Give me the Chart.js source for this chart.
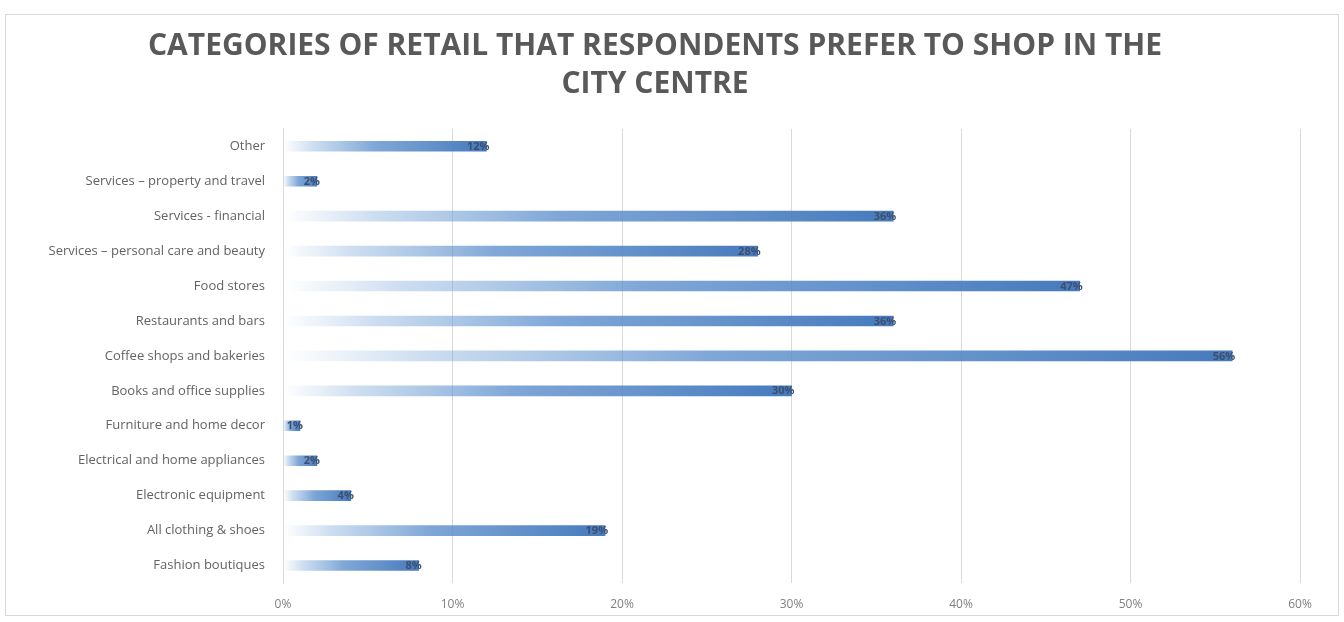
<!DOCTYPE html>
<html>
<head>
<meta charset="utf-8">
<script src="https://cdn.jsdelivr.net/npm/chart.js@4.4.0/dist/chart.umd.min.js"></script>
<style>
  html, body { margin: 0; padding: 0; background: #fff; }
  #wrap { width: 1344px; height: 622px; position: relative; }
</style>
</head>
<body>
<div id="wrap"><canvas id="myChart" width="1344" height="622"></canvas></div>
<script>
// Категорії (зверху вниз) та частка респондентів, %
const categories = [
    'Other',
    'Services – property and travel',
    'Services - financial',
    'Services – personal care and beauty',
    'Food stores',
    'Restaurants and bars',
    'Coffee shops and bakeries',
    'Books and office supplies',
    'Furniture and home decor',
    'Electrical and home appliances',
    'Electronic equipment',
    'All clothing & shoes',
    'Fashion boutiques'
];
const shares = [12, 2, 36, 28, 47, 36, 56, 30, 1, 2, 4, 19, 8];
const xTicks = [0, 10, 20, 30, 40, 50, 60];
const titleLines = ['CATEGORIES OF RETAIL THAT RESPONDENTS PREFER TO SHOP IN THE', 'CITY CENTRE'];

const ctx = document.getElementById('myChart').getContext('2d');

// Рамка та білий фон під діаграмою
const frame = {
    id: 'frame',
    beforeDraw(chart) {
        const {ctx} = chart;
        ctx.save();
        ctx.fillStyle = '#ffffff';
        ctx.fillRect(0, 0, chart.width, chart.height);
        ctx.strokeStyle = '#d9d9d9';
        ctx.lineWidth = 1;
        ctx.strokeRect(5.5, 14.5, chart.width - 11, chart.height - 21);
        ctx.restore();
    }
};

// Підписи значень на кінці смуги
const valueLabels = {
    id: 'valueLabels',
    afterDatasetsDraw(chart) {
        const {ctx, data} = chart;
        ctx.save();
        ctx.font = 'bold 11px "Open Sans", sans-serif';
        ctx.fillStyle = '#3d4f6e';
        ctx.textAlign = 'right';
        ctx.textBaseline = 'middle';
        chart.getDatasetMeta(0).data.forEach((bar, index) => {
            const txt = data.datasets[0].data[index] + '%';
            ctx.fillText(txt, bar.x + 3, bar.y + 0.5);
        });
        ctx.restore();
    }
};

const myChart = new Chart(ctx, {
    type: 'bar',
    data: {
        labels: categories,
        datasets: [{
            data: shares,
            barThickness: 10,
            borderWidth: 0,
            backgroundColor: (context) => {
                const chart = context.chart;
                const xs = chart.scales.x;
                if (!chart.chartArea || !xs || context.raw === undefined) {
                    return 'rgba(91, 141, 204, 0.8)';
                }
                const x0 = xs.getPixelForValue(0);
                const x1 = xs.getPixelForValue(context.raw);
                if (x1 - x0 < 1) return 'rgba(74, 126, 190, 1)';
                const g = chart.ctx.createLinearGradient(x0, 0, x1, 0);
                g.addColorStop(0, 'rgba(120, 165, 215, 0)');
                g.addColorStop(0.15, 'rgba(110, 158, 212, 0.35)');
                g.addColorStop(0.45, 'rgba(95, 145, 205, 0.8)');
                g.addColorStop(1, 'rgba(70, 122, 188, 1)');
                return g;
            }
        }]
    },
    options: {
        indexAxis: 'y',
        responsive: false,
        animation: false,
        layout: {
            padding: { left: 10, right: 44, top: 0, bottom: 10 }
        },
        plugins: {
            legend: { display: false },
            tooltip: { enabled: false },
            title: {
                display: true,
                text: titleLines,
                color: '#595959',
                font: { family: '"Liberation Sans Narrow", "Open Sans", sans-serif', size: 30, weight: 'bold', lineHeight: 1.28 },
                padding: { top: 27, bottom: 25 }
            }
        },
        scales: {
            x: {
                min: 0,
                max: 60,
                afterBuildTicks: (scale) => {
                    scale.ticks = xTicks.map(v => ({ value: v }));
                },
                afterFit: (scale) => { scale.height = 29; },
                grid: { color: '#d9d9d9', drawTicks: false },
                border: { display: false },
                ticks: {
                    color: '#7f7f7f',
                    padding: 14,
                    font: { family: '"Open Sans", sans-serif', size: 12 },
                    callback: (v) => v + '%'
                }
            },
            y: {
                afterFit: (scale) => { scale.width = 273; },
                grid: { display: false },
                border: { display: true, color: '#d9d9d9' },
                ticks: {
                    color: '#636363',
                    padding: 10,
                    font: { family: '"Open Sans", sans-serif', size: 13 }
                }
            }
        }
    },
    plugins: [frame, valueLabels]
});
</script>
</body>
</html>
